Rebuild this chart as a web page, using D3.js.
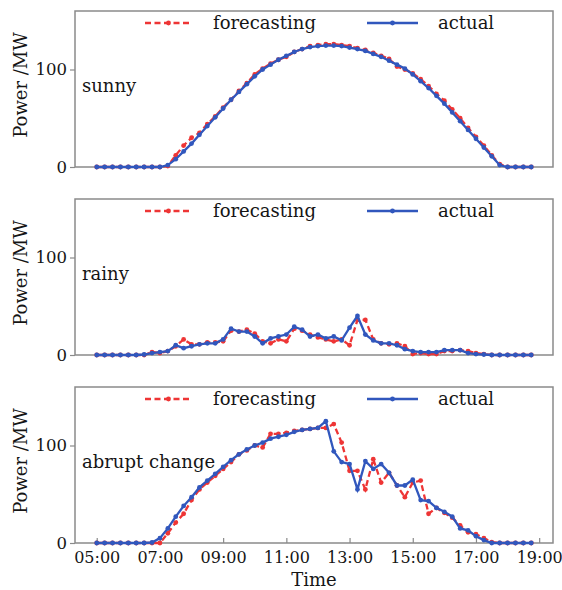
<!DOCTYPE html>
<html>
<head>
<meta charset="utf-8">
<script src="https://cdn.jsdelivr.net/npm/d3@7/dist/d3.min.js"></script>
<style>
    body { margin: 0; background: #fff; }
    svg { display: block; font-family: 'DejaVu Serif', serif; }
</style>
</head>
<body>
<script>
// sample times, every 15 minutes
const times = [
    '05:00', '05:15', '05:30', '05:45', '06:00', '06:15', '06:30', '06:45',
    '07:00', '07:15', '07:30', '07:45', '08:00', '08:15', '08:30', '08:45',
    '09:00', '09:15', '09:30', '09:45', '10:00', '10:15', '10:30', '10:45',
    '11:00', '11:15', '11:30', '11:45', '12:00', '12:15', '12:30', '12:45',
    '13:00', '13:15', '13:30', '13:45', '14:00', '14:15', '14:30', '14:45',
    '15:00', '15:15', '15:30', '15:45', '16:00', '16:15', '16:30', '16:45',
    '17:00', '17:15', '17:30', '17:45', '18:00', '18:15', '18:30', '18:45'
];
const timeTicks = ['05:00', '07:00', '09:00', '11:00', '13:00', '15:00', '17:00', '19:00'];
const powerTicks = [0, 100];

const sunnyForecast = [
    0, 0, 0, 0, 0, 0, 0, 0, 0, 1, 12, 22, 30, 35, 44, 52,
    61, 69, 78, 86, 95, 101, 106, 110, 113, 118, 121, 124, 125, 126, 126, 125,
    124, 122, 120, 117, 114, 111, 103, 100, 96, 90, 83, 75, 68, 59, 50, 40,
    31, 22, 12, 3, 0, 0, 0, 0
];
const sunnyActual = [
    0, 0, 0, 0, 0, 0, 0, 0, 0, 2, 8, 16, 24, 33, 42, 51,
    60, 69, 77, 85, 93, 100, 105, 110, 114, 118, 121, 123, 124, 124.5, 124.5, 124,
    122.5, 121, 119, 116, 113, 109, 105, 101, 95, 88, 81, 73, 65, 56, 47, 38,
    29, 20, 11, 2, 0, 0, 0, 0
];
const rainyForecast = [
    0, 0, 0, 0, 0, 0, 0, 3, 2, 4, 9, 16, 11, 11, 13, 13,
    14, 25, 24, 26, 22, 14, 12, 16, 14, 27, 25, 21, 18, 16, 14, 16,
    10, 36, 36, 16, 12, 11, 12, 9, 1, 2, 1, 1, 4, 4, 5, 4,
    2, 1, 0, 0, 0, 0, 0, 0
];
const rainyActual = [
    0, 0, 0, 0, 0, 0, 0.5, 2, 3, 4, 10, 7, 9, 11, 12, 12,
    16, 27, 24, 24, 19, 12, 17, 19, 21, 29, 26, 19, 21, 17, 19, 15,
    28, 40, 21, 15, 12, 12, 10, 6, 4, 3, 3, 3, 5, 5, 5, 2,
    1, 0.5, 0, 0, 0, 0, 0, 0
];
const abruptForecast = [
    0, 0, 0, 0, 0, 0, 0, 0, 0, 10, 21, 30, 44, 55, 62, 69,
    76, 83, 91, 95, 100, 98, 112, 112, 113, 115, 116, 117, 118, 118, 122, 103,
    74, 74, 55, 86, 62, 72, 59, 47, 62, 64, 30, 36, 31, 26, 18, 11,
    9, 5, 1, 0, 0, 0, 0, 0
];
const abruptActual = [
    0, 0, 0, 0, 0, 0, 0, 0.5, 5, 15, 27, 38, 47, 57, 64, 71,
    78, 85, 91, 96, 100, 103, 107, 109, 111, 114, 116, 117, 118, 125, 94, 83,
    81, 55, 84, 76, 81, 72, 59, 59, 65, 44, 43, 36, 32, 27, 15, 13,
    7, 3, 0, 0, 0, 0, 0, 0
];

const panels = [
    {label: 'sunny', forecast: sunnyForecast, actual: sunnyActual},
    {label: 'rainy', forecast: rainyForecast, actual: rainyActual},
    {label: 'abrupt change', forecast: abruptForecast, actual: abruptActual},
];

const W = 562, H = 590;
const margin = {left: 75, right: 9};
const panelTops = [11, 199, 387];
const panelH = 156;
const RED = '#ee3535', BLUE = '#3157bd', FRAME = '#8a8a8a', INK = '#151515';

const parseTime = d3.timeParse('%H:%M');
const t = times.map(parseTime);
const step = 15 * 60000;

const x = d3.scaleTime()
    .domain([new Date(t[0].getTime() - 2.75 * step), new Date(t[t.length - 1].getTime() + 2.75 * step)])
    .range([margin.left, W - margin.right]);

const svg = d3.select('body').append('svg')
    .attr('width', W)
    .attr('height', H)
    .attr('viewBox', `0 0 ${W} ${H}`);

panels.forEach((p, k) => {
    const top = panelTops[k];
    const y = d3.scaleLinear().domain([0, 160]).range([top + panelH, top]);
    const g = svg.append('g');

    // y axis, ticks outward
    g.append('g')
        .attr('transform', `translate(${margin.left},0)`)
        .call(d3.axisLeft(y).tickValues(powerTicks).tickSize(5).tickPadding(3).tickFormat(d3.format('d')))
        .call(a => a.select('.domain').remove())
        .call(a => a.selectAll('line').attr('stroke', FRAME).attr('stroke-width', 1.2))
        .call(a => a.selectAll('text').attr('fill', INK).attr('font-size', 16.5).attr('font-family', 'DejaVu Serif'));

    // x axis only on the last panel, ticks inward
    if (k === panels.length - 1) {
        g.append('g')
            .attr('transform', `translate(0,${top + panelH})`)
            .call(d3.axisBottom(x).tickValues(timeTicks.map(parseTime)).tickSize(-5).tickPadding(9).tickFormat(d3.timeFormat('%H:%M')))
            .call(a => a.select('.domain').remove())
            .call(a => a.selectAll('line').attr('stroke', FRAME).attr('stroke-width', 1.2))
            .call(a => a.selectAll('text').attr('fill', INK).attr('font-size', 16).attr('font-family', 'DejaVu Serif'));
    }

    // frame
    g.append('rect')
        .attr('x', margin.left)
        .attr('y', top)
        .attr('width', W - margin.right - margin.left)
        .attr('height', panelH)
        .attr('fill', 'none')
        .attr('stroke', FRAME)
        .attr('stroke-width', 1.5);

    const line = d3.line()
        .x((d, i) => x(t[i]))
        .y(d => y(d));

    const series = [
        {data: p.forecast, color: RED, dash: '6,3.5'},
        {data: p.actual, color: BLUE, dash: null},
    ];
    series.forEach(s => {
        g.append('path')
            .attr('d', line(s.data))
            .attr('fill', 'none')
            .attr('stroke', s.color)
            .attr('stroke-width', 2.3)
            .attr('stroke-dasharray', s.dash);
        g.selectAll(null)
            .data(s.data)
            .enter().append('circle')
            .attr('cx', (d, i) => x(t[i]))
            .attr('cy', d => y(d))
            .attr('r', 2.4)
            .attr('fill', s.color);
    });

    // legend
    const ly = top + 12;
    const legend = [
        {x0: 145, x1: 192, tx: 213, color: RED, dash: '6,3.5', text: 'forecasting'},
        {x0: 367, x1: 418, tx: 438, color: BLUE, dash: null, text: 'actual'},
    ];
    legend.forEach(l => {
        g.append('line')
            .attr('x1', l.x0).attr('x2', l.x1)
            .attr('y1', ly).attr('y2', ly)
            .attr('stroke', l.color)
            .attr('stroke-width', 2.3)
            .attr('stroke-dasharray', l.dash);
        g.append('circle')
            .attr('cx', (l.x0 + l.x1) / 2)
            .attr('cy', ly)
            .attr('r', 2.4)
            .attr('fill', l.color);
        g.append('text')
            .attr('x', l.tx)
            .attr('y', top + 18)
            .attr('font-size', 18)
            .attr('fill', INK)
            .text(l.text);
    });

    // weather label
    g.append('text')
        .attr('x', 82)
        .attr('y', top + 81)
        .attr('font-size', 18)
        .attr('fill', INK)
        .text(p.label);

    // y label
    g.append('text')
        .attr('transform', `translate(27,${top + panelH / 2 - 4}) rotate(-90)`)
        .attr('text-anchor', 'middle')
        .attr('font-size', 18)
        .attr('fill', INK)
        .text('Power /MW');
});

svg.append('text')
    .attr('x', (margin.left + W - margin.right) / 2)
    .attr('y', 586)
    .attr('text-anchor', 'middle')
    .attr('font-size', 18)
    .attr('fill', INK)
    .text('Time');
</script>
</body>
</html>
